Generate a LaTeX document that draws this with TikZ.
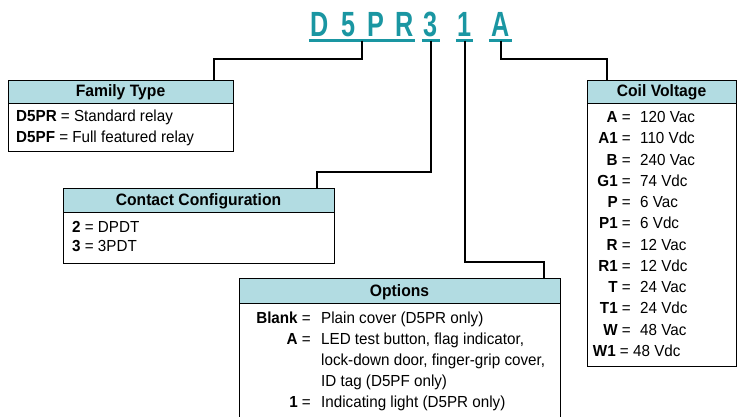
\documentclass[tikz,border=0pt]{standalone}
\usepackage{fontspec}
\setmainfont{Liberation Sans}[FakeStretch=0.95]
\newfontfamily\hdfont{Liberation Sans}[FakeStretch=0.95]
\newfontfamily\ttlfont{Liberation Sans}[FakeStretch=0.72]
\definecolor{teal1}{HTML}{1A96A2}
\definecolor{hdfill}{HTML}{B2DCE2}
\tikzset{
  conn/.style={line width=2pt, black},
  uline/.style={line width=2.6pt, teal1},
  ttl/.style={font=\ttlfont\bfseries\fontsize{35}{40}\selectfont, text=teal1, inner xsep=0pt, inner ysep=3.5pt, text depth=0pt, anchor=south},
  boxn/.style={draw, line width=1.3pt, fill=white, anchor=north west, inner sep=0pt},
  hdbox/.style={draw, line width=1.3pt, fill=hdfill, anchor=north west, inner sep=0pt},
  hd/.style={font=\hdfont\bfseries\fontsize{16.5}{19}\selectfont, anchor=base, inner sep=0pt},
  row/.style={font=\fontsize{16}{19}\selectfont, anchor=base west, inner sep=0pt},
  lab/.style={font=\fontsize{16}{19}\selectfont, anchor=base east, inner sep=0pt},
}
\begin{document}
\begin{tikzpicture}[x=1pt,y=-1pt]
\useasboundingbox (0,0) rectangle (738,416);
\fill[white] (0,0) rectangle (738,416);

% title groups
\node[ttl, minimum width=106] (gD) at (362,40.5) {D\hspace{12.5pt}5\hspace{12.5pt}P\hspace{11pt}R};
\node[ttl, minimum width=18] (g3) at (431,40.5) {3};
\node[ttl, minimum width=17] (g1) at (464.5,40.5) {1};
\node[ttl, minimum width=23] (gA) at (500.5,40.5) {A};
\foreach \g in {gD,g3,g1,gA}{\draw[uline] (\g.south west) -- (\g.south east);}

% boxes
\node[boxn, minimum width=225, minimum height=71] (fam) at (8,80) {};
\node[hdbox, minimum width=225, minimum height=23] (famh) at (8,80) {};
\node[boxn, minimum width=271, minimum height=75] (cc) at (63,188) {};
\node[hdbox, minimum width=271, minimum height=24] (cch) at (63,188) {};
\node[boxn, minimum width=321, minimum height=150] (opt) at (239,278) {};
\node[hdbox, minimum width=321, minimum height=25] (opth) at (239,278) {};
\node[boxn, minimum width=149, minimum height=286] (coil) at (587,80) {};
\node[hdbox, minimum width=149, minimum height=23] (coilh) at (587,80) {};

% connectors
\coordinate (k1) at (214,59);
\coordinate (k2) at (317,172);
\coordinate (k3) at (544,262);
\coordinate (k4) at (607,59);
\draw[conn] (gD.south) |- (k1) -- (k1 |- fam.north);
\draw[conn] (g3.south) |- (k2) -- (k2 |- cc.north);
\draw[conn] (g1.south) |- (k3) -- (k3 |- opt.north);
\draw[conn] (gA.south) |- (k4) -- (k4 |- coil.north);

% Family Type
\node[hd] (famt) at (120.5,96.5) {Family Type};
\node[row] (f1) at (16,121.5) {\textbf{D5PR} = Standard relay};
\node[row] (f2) at (16,142) {\textbf{D5PF} = Full featured relay};

% Contact Configuration
\node[hd] (cct) at (198.5,205) {Contact Configuration};
\node[row] (c1) at (72,232) {\textbf{2} = DPDT};
\node[row] (c2) at (72,251.5) {\textbf{3} = 3PDT};

% Options
\node[hd] (optt) at (399.5,296) {Options};
\node[lab] (o1l) at (311,323) {\textbf{Blank} =};
\node[row] (o1) at (321,323) {Plain cover (D5PR only)};
\node[lab] (o2l) at (311,344) {\textbf{A} =};
\node[row] (o2) at (321,344) {LED test button, flag indicator,};
\node[row] (o3) at (321,365) {lock-down door, finger-grip cover,};
\node[row] (o4) at (321,386) {ID tag (D5PF only)};
\node[lab] (o5l) at (311,407.5) {\textbf{1} =};
\node[row] (o5) at (321,407.5) {Indicating light (D5PR only)};

% Coil Voltage
\node[hd] (coilt) at (661.5,96.5) {Coil Voltage};
\foreach \l/\v [count=\i from 0] in {A/120 Vac, A1/110 Vdc, B/240 Vac, G1/74 Vdc, P/6 Vac, P1/6 Vdc, R/12 Vac, R1/12 Vdc, T/24 Vac, T1/24 Vdc, W/48 Vac}{
  \node[lab] (cl\i) at (631,122.5+21.27*\i) {\textbf{\l} =};
  \node[row] (cv\i) at (640,122.5+21.27*\i) {\v};
}
\node[lab] (cl11) at (629,356.5) {\textbf{W1} =};
\node[row] (cv11) at (633,356.5) {48 Vdc};
\end{tikzpicture}
\end{document}
